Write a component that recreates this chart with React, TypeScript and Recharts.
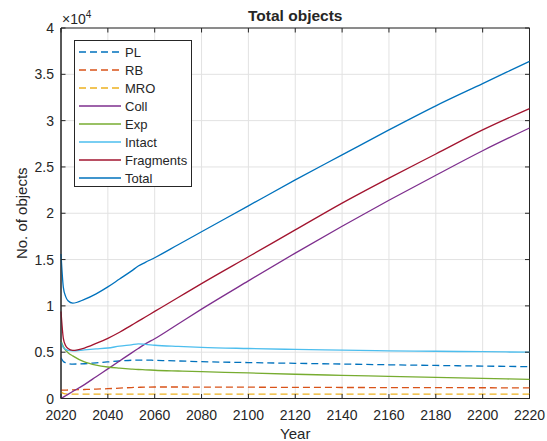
import { CartesianGrid, Legend, Line, LineChart, ReferenceArea, XAxis, YAxis } from "recharts";

const years = [2020, 2021, 2022, 2023, 2025, 2030, 2035, 2040, 2045, 2050, 2053, 2056, 2060, 2070, 2080, 2100, 2120, 2140, 2160, 2180, 2200, 2220];
const pl = [4400, 4000, 3850, 3780, 3720, 3750, 3850, 3950, 4050, 4130, 4150, 4150, 4120, 4050, 3980, 3880, 3800, 3720, 3640, 3570, 3500, 3440];
const rb = [900, 900, 910, 920, 930, 970, 1010, 1060, 1120, 1180, 1210, 1230, 1240, 1240, 1230, 1220, 1200, 1190, 1180, 1170, 1160, 1150];
const mro = [700, 550, 500, 480, 470, 470, 470, 470, 470, 470, 470, 470, 470, 470, 470, 470, 470, 470, 470, 470, 470, 470];
const coll = [0, 150, 300, 450, 750, 1500, 2350, 3200, 4050, 4900, 5400, 5900, 6450, 8050, 9650, 12700, 15700, 18600, 21400, 24100, 26750, 29200];
const exp = [6200, 5600, 5200, 4950, 4600, 3950, 3600, 3400, 3280, 3180, 3130, 3100, 3050, 2970, 2900, 2760, 2620, 2500, 2390, 2280, 2170, 2060];
const intact = [6100, 5500, 5300, 5200, 5150, 5250, 5350, 5450, 5650, 5800, 5900, 5850, 5750, 5620, 5520, 5400, 5300, 5220, 5150, 5100, 5050, 5000];
const fragments = [9400, 6500, 5700, 5400, 5200, 5450, 5950, 6500, 7150, 7900, 8350, 8800, 9400, 10900, 12400, 15300, 18200, 21100, 23800, 26400, 29000, 31300];
const total = [15600, 12000, 11000, 10550, 10300, 10700, 11300, 12050, 12900, 13750, 14300, 14700, 15200, 16600, 18000, 20800, 23600, 26300, 29000, 31600, 34000, 36400];

const xTicks = [2020, 2040, 2060, 2080, 2100, 2120, 2140, 2160, 2180, 2200, 2220];
const yTicks = [0, 5000, 10000, 15000, 20000, 25000, 30000, 35000, 40000];

const series = [
  { key: "PL", values: pl, color: "#0072BD", dash: "7 4" },
  { key: "RB", values: rb, color: "#D95319", dash: "7 4" },
  { key: "MRO", values: mro, color: "#EDB120", dash: "7 4" },
  { key: "Coll", values: coll, color: "#7E2F8E", dash: undefined },
  { key: "Exp", values: exp, color: "#77AC30", dash: undefined },
  { key: "Intact", values: intact, color: "#4DBEEE", dash: undefined },
  { key: "Fragments", values: fragments, color: "#A2142F", dash: undefined },
  { key: "Total", values: total, color: "#0072BD", dash: undefined },
];

const data = years.map((year, i) => {
  const row: Record<string, number> = { year };
  series.forEach((s) => {
    row[s.key] = s.values[i];
  });
  return row;
});

const FONT = "'Liberation Sans', Arial, Helvetica, sans-serif";
const INK = "#262626";
const W = 547;
const H = 441;
const LEFT = 61;
const RIGHT = 529.5;
const TOP = 28;
const BOTTOM = 398.5;

function XTick(props: any) {
  const { x, y, payload } = props;
  return (
    <g>
      <line x1={x} y1={y} x2={x} y2={y - 4.5} stroke={INK} />
      <line x1={x} y1={TOP} x2={x} y2={TOP + 4.5} stroke={INK} />
      <text x={x} y={y + 21} textAnchor="middle" fontSize={14} fill={INK} fontFamily={FONT}>
        {payload.value}
      </text>
    </g>
  );
}

function YTick(props: any) {
  const { x, y, payload } = props;
  return (
    <g>
      <line x1={x} y1={y} x2={x + 4.5} y2={y} stroke={INK} />
      <line x1={RIGHT} y1={y} x2={RIGHT - 4.5} y2={y} stroke={INK} />
      <text x={x - 7} y={y + 5} textAnchor="end" fontSize={14} fill={INK} fontFamily={FONT}>
        {String(payload.value / 10000)}
      </text>
    </g>
  );
}

function LegendBox() {
  return (
    <svg width={118} height={147} style={{ display: "block" }}>
      <rect x={0.5} y={0.5} width={117} height={146} fill="#fff" stroke={INK} />
      {series.map((s, i) => {
        const cy = 12 + i * 18;
        return (
          <g key={s.key}>
            <line x1={5} y1={cy} x2={47} y2={cy} stroke={s.color} strokeWidth={1.5} strokeDasharray={s.dash} />
            <text x={51} y={cy + 4.5} fontSize={13} fill={INK} fontFamily={FONT}>
              {s.key}
            </text>
          </g>
        );
      })}
    </svg>
  );
}

export default function App() {
  return (
    <div style={{ position: "absolute", left: 0, top: 0, width: W, height: H, background: "#fff" }}>
      <LineChart
        width={W}
        height={H}
        data={data}
        margin={{ top: TOP, right: W - RIGHT, left: 0, bottom: 0 }}
      >
        <CartesianGrid stroke="#e2e2e2" strokeWidth={1} />
        <XAxis
          dataKey="year"
          type="number"
          domain={[2020, 2220]}
          ticks={xTicks}
          height={H - BOTTOM}
          tickSize={0}
          tickMargin={0}
          tickLine={false}
          axisLine={{ stroke: INK }}
          tick={<XTick />}
          interval={0}
          label={{ value: "Year", position: "insideBottom", offset: 2, fontSize: 15, fill: INK, fontFamily: FONT }}
        />
        <YAxis
          type="number"
          domain={[0, 40000]}
          ticks={yTicks}
          width={LEFT}
          tickSize={0}
          tickMargin={0}
          tickLine={false}
          axisLine={{ stroke: INK }}
          tick={<YTick />}
          interval={0}
        />
        <ReferenceArea x1={2020} x2={2220} y1={0} y2={40000} fill="none" stroke={INK} strokeWidth={1} ifOverflow="visible" />
        {series.map((s) => (
          <Line
            key={s.key}
            dataKey={s.key}
            name={s.key}
            type="monotone"
            stroke={s.color}
            strokeWidth={1.3}
            strokeDasharray={s.dash}
            dot={false}
            activeDot={false}
            isAnimationActive={false}
          />
        ))}
        <Legend
          layout="vertical"
          align="center"
          verticalAlign="middle"
          content={() => <LegendBox />}
          wrapperStyle={{ position: "absolute", left: 74, top: 40, width: 118, height: 147 }}
        />
        <text x={(LEFT + RIGHT) / 2} y={21} textAnchor="middle" fontSize={15.5} fontWeight="bold" fill={INK} fontFamily={FONT}>
          Total objects
        </text>
        <text x={62} y={24} fontSize={14} fill={INK} fontFamily={FONT}>
          ×10
          <tspan fontSize={10} dy={-6}>4</tspan>
        </text>
        <text
          x={21}
          y={(TOP + BOTTOM) / 2}
          transform={`rotate(-90 21 ${(TOP + BOTTOM) / 2})`}
          textAnchor="middle"
          dominantBaseline="central"
          fontSize={15}
          fill={INK}
          fontFamily={FONT}
        >
          No. of objects
        </text>
      </LineChart>
    </div>
  );
}
